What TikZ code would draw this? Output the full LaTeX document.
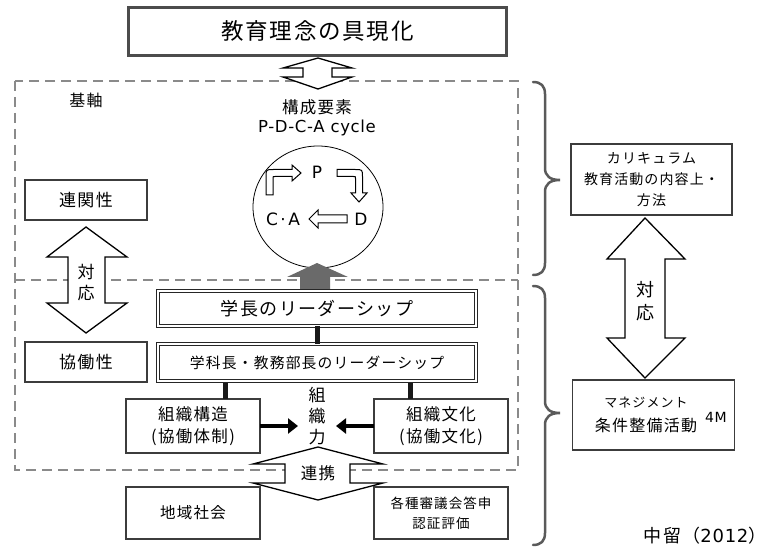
\documentclass[tikz,border=0pt]{standalone}
\usepackage{fontspec}
\setmainfont{Noto Sans CJK JP}[LetterSpace=8]
\newfontfamily\latf{DejaVu Sans}[LetterSpace=4]
\usetikzlibrary{arrows.meta,shapes.geometric}
\definecolor{bd}{HTML}{3C3C3C}
\definecolor{dashc}{HTML}{8A8A8A}
\definecolor{brc}{HTML}{5A5A5A}
\definecolor{garr}{HTML}{6A6A6A}
\newcommand\fs[2]{\fontsize{#1}{#2}\selectfont}
\begin{document}
\begin{tikzpicture}[x=1pt,y=-1pt,
 box/.style={draw=bd, line width=1.1pt, fill=white, inner sep=0pt, outer sep=0pt, align=center},
 dbox/.style={draw=black!85, double=white, double distance=1.6pt, line width=0.9pt, fill=white, inner sep=0pt, outer sep=0pt, align=center},
 outarrow/.style={draw=black, line width=1.3pt, fill=white, line join=miter},
 smallarrow/.style={draw=black, line width=1pt, fill=white, line join=miter},
 dashline/.style={draw=dashc, line width=2pt, dash pattern=on 10pt off 6pt},
 bracestyle/.style={draw=brc, line width=2.5pt, line cap=round},
 link/.style={draw=black!90, line width=5pt},
 boldarrow/.style={draw=black, line width=4pt, -{Triangle[length=10pt,width=15pt]}},
 txt/.style={inner sep=0pt, align=center},
]
\useasboundingbox (0,0) rectangle (769,548);

% dashed frames
\draw[dashline] (15,81) rectangle (518,470);
\draw[dashline] (15,280) -- (518,280);

% title
\node[draw=black!70, line width=3pt, fill=white, minimum width=378pt, minimum height=48pt, inner sep=0pt, font=\fs{22.5}{26}] (title) at (317.5,31.5) {教育理念の具現化};

% top double arrow
\draw[outarrow] (318,58) -- (352,68) -- (332,68) -- (332,77) -- (352,77) -- (318,89) -- (283,77) -- (303,77) -- (303,68) -- (283,68) -- cycle;

% labels in upper frame
\node[txt, font=\fs{16}{19}] (kijiku) at (86,100) {基軸};
\node[txt, font=\fs{16.5}{21}] (kosei) at (317,107) {構成要素};
\node[txt, font=\latf\fs{16.5}{20}] (pdca) at (317,128) {P-D-C-A cycle};

% cycle
\node[draw=black, line width=0.8pt, ellipse, minimum width=130pt, minimum height=122pt, inner sep=0pt] (cyc) at (318,207) {};
\node[txt, font=\latf\fs{17}{20}] (P) at (317,172) {P};
\node[txt, font=\latf\fs{17}{20}] (D) at (361,219) {D};
\node[txt, font=\latf\fs{17}{20}] (CA) at (283,219) {C\hspace{2.5pt}·\hspace{2.5pt}A};
\draw[smallarrow] (266,195) -- (266,177) .. controls (266,169.5) .. (273.5,169.5) -- (292,169.5) -- (292,165) -- (301,173) -- (292,181) -- (292,176.5) -- (275,176.5) .. controls (273,176.5) .. (273,178.5) -- (273,195) -- cycle;
\draw[smallarrow] (337,169.5) -- (355,169.5) .. controls (362.5,169.5) .. (362.5,177) -- (362.5,193) -- (367,193) -- (359,202) -- (351,193) -- (355.5,193) -- (355.5,178.5) .. controls (355.5,176.5) .. (353.5,176.5) -- (337,176.5) -- cycle;
\draw[smallarrow] (347,215) -- (318,215) -- (318,210) -- (309,219) -- (318,228) -- (318,223) -- (347,223) -- cycle;

% left side
\node[box, minimum width=122pt, minimum height=40pt, font=\fs{17}{20}] (renkan) at (86,200) {連関性};
\node[box, minimum width=122pt, minimum height=40pt, font=\fs{17}{20}] (kyodo) at (86,362) {協働性};
\draw[outarrow] (86,227) -- (127,257) -- (105,257) -- (105,303) -- (127,303) -- (86,333) -- (47,303) -- (68,303) -- (68,257) -- (47,257) -- cycle;
\node[txt, font=\fs{17}{21}] (taio1) at (86,283) {対\\応};

% leadership boxes
\node[dbox, minimum width=318pt, minimum height=35pt, font=\fs{18}{20}] (gakucho) at (317,308.5) {学長のリーダーシップ};
\node[dbox, minimum width=318pt, minimum height=37pt, font=\fs{14.8}{18}] (gakka) at (317,362.5) {学科長・教務部長のリーダーシップ};
\draw[link] (gakucho.south) -- (gakka.north);

% gray arrow to cycle
\fill[garr] (300,289) -- (300,277) -- (287,277) -- (317,263) -- (348,277) -- (330,277) -- (330,289) -- cycle;

% organisation
\node[box, minimum width=134pt, minimum height=54pt, font=\fs{16.5}{22}] (kozo) at (193,426) {組織構造\\(協働体制)};
\node[box, minimum width=134pt, minimum height=54pt, font=\fs{16.5}{22}] (bunka) at (441,426) {組織文化\\(協働文化)};
\draw[link] (225,383) -- (225,399);
\draw[link] (410,383) -- (410,399);
\node[txt, font=\fs{17}{21}] (soshiki) at (317,416) {組\\織\\力};
\draw[boldarrow] (kozo.east) -- (298,426);
\draw[boldarrow] (bunka.west) -- (336,426);

% renkei arrow
\draw[outarrow] (318,447) -- (383,464) -- (350,464) -- (350,483) -- (383,483) -- (318,500) -- (253,483) -- (285,483) -- (285,464) -- (253,464) -- cycle;
\node[txt, font=\fs{16.5}{19}] (renkei) at (318,473) {連携};

% bottom boxes
\node[box, minimum width=134pt, minimum height=52pt, font=\fs{15.5}{18}] (chiiki) at (193,513) {地域社会};
\node[box, minimum width=134pt, minimum height=52pt, font=\fs{13.5}{20}] (shingi) at (441,513) {各種審議会答申\\認証評価};

% braces
\draw[bracestyle] (533,82) .. controls (541,82) and (545,86) .. (545,94) -- (545,168) .. controls (545,176) and (550,180) .. (560,180) .. controls (550,180) and (545,184) .. (545,192) -- (545,263) .. controls (545,271) and (541,275) .. (533,275);
\draw[bracestyle] (533,286) .. controls (541,286) and (545,290) .. (545,298) -- (545,401) .. controls (545,409) and (550,413) .. (560,413) .. controls (550,413) and (545,417) .. (545,425) -- (545,533) .. controls (545,541) and (541,545) .. (533,545);

% right column
\node[box, minimum width=161pt, minimum height=71pt, font=\fs{14}{21}] (curr) at (651.5,179.5) {カリキュラム\\教育活動の内容上・\\方法};
\draw[outarrow] (645,218) -- (685,259) -- (665,259) -- (665,338) -- (685,338) -- (645,378) -- (607,338) -- (625,338) -- (625,259) -- (607,259) -- cycle;
\node[txt, font=\fs{18}{23}] (taio2) at (645,301) {対\\応};
\node[box, minimum width=162pt, minimum height=70pt] (mgmt) at (653.5,415) {};
\node[txt, font=\fs{13}{15}] (mgmt1) at (646,403) {マネジメント};
\node[txt, font=\fs{16}{18}] (mgmt2) at (646,425) {条件整備活動};
\node[txt, font=\latf\fs{14}{16}] (fourM) at (716,417) {4M};

\node[txt, font=\fs{18}{20}] (cite) at (705,536) {中留（{\latf 2012}）};
\end{tikzpicture}
\end{document}
